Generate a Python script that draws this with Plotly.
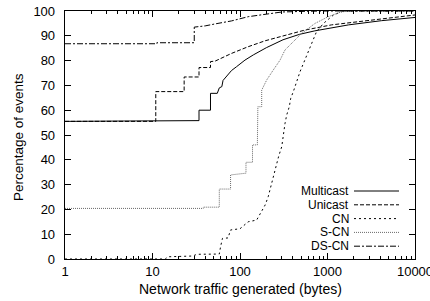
import plotly.graph_objects as go

# ---- data ----
multicast_x = [1, 23, 23, 34, 34, 46, 46, 55, 58, 62, 64, 72, 80, 91, 114, 142, 200, 310, 480, 718, 1000, 1740, 4150, 10000]
multicast_y = [55.5, 55.5, 55.8, 55.8, 60, 60, 66.8, 66.8, 69, 69.5, 72, 74, 76, 77.5, 80.2, 82.3, 85.2, 88.4, 90.6, 92.0, 93.0, 94.4, 96.1, 97.4]

unicast_x = [1, 10.9, 10.9, 23, 23, 34, 34, 46, 46, 52, 80, 124, 194, 300, 550, 1110, 2700, 10000]
unicast_y = [55.5, 55.5, 67.5, 67.5, 73.4, 73.4, 77.2, 77.2, 79.6, 79.8, 82.9, 85.6, 88.0, 89.9, 92.3, 94.4, 96.1, 98.4]

cn_x = [1, 14, 15, 29, 32, 58, 60, 63, 73, 78, 100, 124, 155, 194, 210, 240, 251, 276, 300, 313, 327, 342, 366, 380, 407, 485, 580, 660, 750, 900, 1170, 1520, 10000]
cn_y = [0, 0, 0.9, 1.2, 1.9, 2.0, 5.0, 8.3, 8.5, 11.7, 12.2, 15.0, 15.7, 21.8, 25.1, 33.0, 36.6, 41.3, 45.3, 50.7, 54.7, 58.1, 61.4, 64.8, 67.5, 75.5, 82.3, 87.6, 91.7, 95.0, 98.4, 100, 100]

scn_x = [1, 38, 38, 58, 58, 78, 78, 100, 117, 117, 139, 139, 158, 160, 177, 177, 202, 240, 287, 327, 425, 507, 720, 1020, 1450, 2000, 10000]
scn_y = [20.4, 20.4, 20.9, 20.9, 28.2, 28.2, 33.9, 34.3, 34.6, 39.0, 39.0, 46.0, 46.0, 61.4, 61.4, 68.1, 72.2, 76.2, 80.2, 84.3, 88.3, 91.0, 95.0, 97.7, 99.7, 100, 100]

dscn_x = [1, 11.2, 11.2, 30, 30, 40, 52, 80, 124, 300, 600, 1000, 10000]
dscn_y = [86.8, 86.8, 87.2, 87.2, 93.5, 94.0, 94.8, 96.0, 97.7, 99.6, 99.9, 100, 100]

series_names = ["Multicast", "Unicast", "CN", "S-CN", "DS-CN"]
x_tick_vals = [1, 10, 100, 1000, 10000]
x_tick_text = ["1", "10", "100", "1000", "10000"]
y_tick_vals = [0, 10, 20, 30, 40, 50, 60, 70, 80, 90, 100]
x_title = "Network traffic generated (bytes)"
y_title = "Percentage of events"

# ---- styles ----
styles = [
    dict(color="black", dash="solid", width=1),
    dict(color="black", dash="4px,2px", width=1),
    dict(color="black", dash="2px,3px", width=1),
    dict(color="#6a6a6a", dash="1px,1px", width=1),
    dict(color="black", dash="6px,2px,2px,2px", width=1),
]
data = [(multicast_x, multicast_y), (unicast_x, unicast_y), (cn_x, cn_y),
        (scn_x, scn_y), (dscn_x, dscn_y)]

W, H = 430, 301
PL, PR, PT, PB = 65, 415, 11, 259          # plot area in pixels
L, R, T, B = PL, W - PR, PT, H - PB
PW, PH = PR - PL, PB - PT

def px(x):
    return (x - PL) / PW

def py(y):
    return (PB - y) / PH

fig = go.Figure()
for (xs, ys), name, st in zip(data, series_names, styles):
    fig.add_trace(go.Scatter(x=xs, y=ys, mode="lines", name=name,
                             line=st, showlegend=False, hoverinfo="skip"))

# custom legend (text right-aligned, sample to the right)
leg_rows_px = [191, 204.8, 218.6, 232.4, 246.2]
text_right_px, line_x0_px, line_x1_px = 351, 354, 399
for name, st, yy in zip(series_names, styles, leg_rows_px):
    fig.add_annotation(x=px(text_right_px), y=py(yy), xref="paper", yref="paper",
                       text=name, showarrow=False, xanchor="right", yanchor="middle",
                       font=dict(size=12, color="black"))
    fig.add_shape(type="line", xref="paper", yref="paper",
                  x0=px(line_x0_px), x1=px(line_x1_px), y0=py(yy), y1=py(yy),
                  line=st)

# axis titles
fig.add_annotation(x=px(240), y=py(289), xref="paper", yref="paper", text=x_title,
                   showarrow=False, xanchor="center", yanchor="middle",
                   font=dict(size=14, color="black"))
fig.add_annotation(x=px(18), y=py(137), xref="paper", yref="paper", text=y_title,
                   showarrow=False, xanchor="center", yanchor="middle", textangle=-90,
                   font=dict(size=13.5, color="black"))

fig.update_layout(
    width=W, height=H,
    margin=dict(l=L, r=R, t=T, b=B, autoexpand=False),
    plot_bgcolor="white", paper_bgcolor="white",
    font=dict(family="Liberation Sans, Arial, sans-serif", color="black"),
    hovermode=False,
)
fig.update_xaxes(
    type="log", range=[0, 4], tickvals=x_tick_vals, ticktext=x_tick_text,
    ticks="inside", ticklen=6, tickwidth=1, tickcolor="black",
    minor=dict(ticks="inside", ticklen=3, tickcolor="black", dtick="D1", showgrid=False),
    showline=True, linecolor="black", linewidth=1.3, mirror="allticks",
    showgrid=False, zeroline=False, automargin=False,
    tickfont=dict(size=13), ticklabeloverflow="allow",
)
fig.update_yaxes(
    range=[0, 100], tickvals=y_tick_vals,
    ticks="inside", ticklen=6, tickwidth=1, tickcolor="black",
    showline=True, linecolor="black", linewidth=1.3, mirror="allticks",
    showgrid=False, zeroline=False, automargin=False,
    tickfont=dict(size=13), ticklabelstandoff=6, ticklabeloverflow="allow",
)

fig.write_html("out.html", config={"displayModeBar": False, "staticPlot": True},
               post_script="document.body.style.margin='0px';")
